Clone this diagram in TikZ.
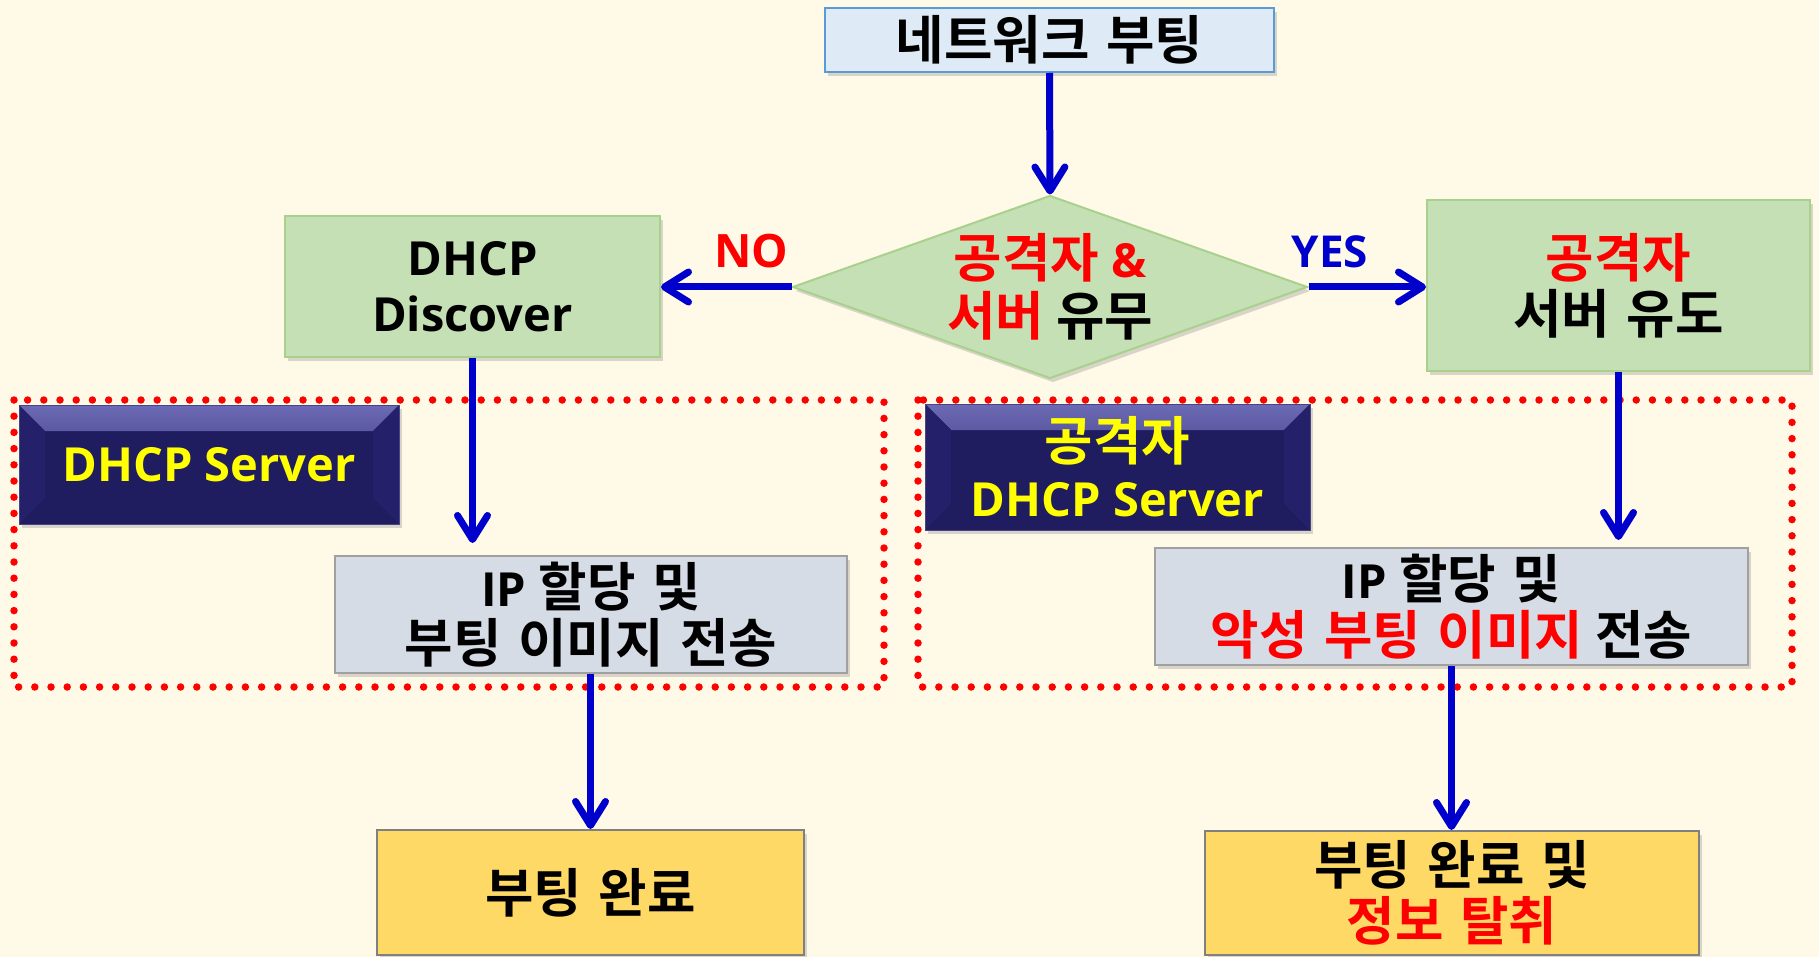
\documentclass[tikz,border=0pt]{standalone}
\usepackage{fontspec}
\setmainfont{Open Sans}[UprightFont=* Bold,BoldFont=* Bold]
\newfontfamily\kr{Noto Sans CJK KR}[UprightFont=* Bold,BoldFont=* Bold,Scale=1.12,WordSpace=1.4]
\usetikzlibrary{shapes.geometric,arrows.meta,shadows}

\definecolor{bgcream}{RGB}{255,249,231}
\definecolor{flowblue}{RGB}{0,0,204}
\definecolor{hotred}{RGB}{255,0,0}
\definecolor{startfill}{RGB}{222,235,247}
\definecolor{startdraw}{RGB}{91,155,213}
\definecolor{greenfill}{RGB}{197,224,180}
\definecolor{greendraw}{RGB}{169,209,142}
\definecolor{grayfill}{RGB}{214,220,229}
\definecolor{graydraw}{RGB}{160,160,160}
\definecolor{goldfill}{RGB}{255,217,102}
\definecolor{golddraw}{RGB}{128,128,128}
\definecolor{navyfill}{RGB}{31,28,96}
\definecolor{navylight}{RGB}{108,106,180}
\definecolor{navyside}{RGB}{36,33,106}
\definecolor{navyedge}{RGB}{70,68,130}
\definecolor{textyellow}{RGB}{255,255,0}

\newcommand{\ko}[1]{{\kr #1}}

\tikzset{
  softshadow/.style={drop shadow={opacity=0.3,shadow xshift=3pt,shadow yshift=-4pt}},
  box/.style={rectangle,inner sep=0pt,line width=2pt,align=center,
    font=\fontsize{47}{56}\selectfont,softshadow},
  startbox/.style={box,fill=startfill,draw=startdraw},
  greenbox/.style={box,fill=greenfill,draw=greendraw},
  graybox/.style={box,fill=grayfill,draw=graydraw},
  goldbox/.style={box,fill=goldfill,draw=golddraw},
  navybox/.style={box,fill=navyfill,draw=navyedge,line width=1pt,text=textyellow,
    path picture={
      \shade[top color=navylight,bottom color=navyfill]
        (path picture bounding box.north west) -- (path picture bounding box.north east)
        -- ([xshift=-26pt,yshift=-26pt]path picture bounding box.north east)
        -- ([xshift=26pt,yshift=-26pt]path picture bounding box.north west) -- cycle;
      \fill[navyside]
        (path picture bounding box.north west)
        -- ([xshift=26pt,yshift=-26pt]path picture bounding box.north west)
        -- ([xshift=26pt,yshift=26pt]path picture bounding box.south west)
        -- (path picture bounding box.south west) -- cycle;
      \fill[navyside]
        (path picture bounding box.north east)
        -- ([xshift=-26pt,yshift=-26pt]path picture bounding box.north east)
        -- ([xshift=-26pt,yshift=26pt]path picture bounding box.south east)
        -- (path picture bounding box.south east) -- cycle;
    }},
  decision/.style={diamond,inner sep=0pt,fill=greenfill,draw=greendraw,line width=2pt,softshadow},
  dotframe/.style={draw=hotred,line width=7.5pt,line cap=round,dash pattern=on 0pt off 16.2pt},
  flow/.style={draw=flowblue,line width=7pt,-{Straight Barb[length=24pt,width=30pt,round]}},
  answer/.style={inner sep=0pt,font=\fontsize{46}{56}\selectfont},
}

\begin{document}
\begin{tikzpicture}[x=1pt,y=-1pt]
  \useasboundingbox (0,0) rectangle (1819,957);
  \fill[bgcream] (0,0) rectangle (1819,957);

  % dotted frames around the two server stages
  \draw[dotframe] (14,400) rectangle (884,687);
  \draw[dotframe] (918,400) rectangle (1792,687);

  % flow nodes
  \node[startbox,minimum width=449pt,minimum height=64pt] (boot) at (1049.5,40) {\ko{네트워크 부팅}};
  \node[decision,minimum width=515pt,minimum height=183pt] (check) at (1050,287) {};
  \node[align=center,font=\fontsize{47}{58}\selectfont] (checktxt) at (check)
    {{\color{hotred}\ko{공격자} \&}\\{\color{hotred}\ko{서버}} \ko{유무}};
  \node[greenbox,minimum width=375pt,minimum height=141pt] (disc) at (472.5,286.5) {DHCP\\Discover};
  \node[greenbox,minimum width=383pt,minimum height=171pt] (lure) at (1618.5,285.5)
    {{\color{hotred}\ko{공격자}}\\\ko{서버 유도}};

  \node[navybox,minimum width=380pt,minimum height=119pt] (srvA) at (209,464.5) {DHCP Server};
  \node[navybox,minimum width=385pt,minimum height=126pt] (srvB) at (1117.5,467)
    {\ko{공격자}\\DHCP Server};

  \node[graybox,minimum width=512pt,minimum height=117pt] (ipA) at (591,614.5)
    {IP \ko{할당 및}\\\ko{부팅 이미지 전송}};
  \node[graybox,minimum width=593pt,minimum height=117pt] (ipB) at (1451.5,606.5)
    {IP \ko{할당 및}\\{\color{hotred}\ko{악성 부팅 이미지}} \ko{전송}};

  \node[goldbox,minimum width=427pt,minimum height=125pt] (doneA) at (590.5,892.5) {\ko{부팅 완료}};
  \node[goldbox,minimum width=494pt,minimum height=124pt] (doneB) at (1452,893)
    {\ko{부팅 완료 및}\\{\color{hotred}\ko{정보 탈취}}};

  % branch labels
  \node[answer,text=hotred] (nolbl) at (751,251) {NO};
  \node[answer,text=flowblue,font=\fontsize{44}{50}\selectfont] (yeslbl) at (1330,252) {YES};

  % connectors
  \draw[flow] (boot.south) -- (check.north);
  \draw[flow] (check.west) -- (disc.east |- check.west);
  \draw[flow] (check.east) -- (lure.west |- check.east);
  \draw[flow,shorten >=12pt] (disc.south) -- (disc.south |- ipA.north);
  \draw[flow,shorten >=7pt] (lure.south) -- (lure.south |- ipB.north);
  \draw[flow] (ipA.south -| doneA.north) -- (doneA.north);
  \draw[flow] (ipB.south) -- (ipB.south |- doneB.north);
\end{tikzpicture}
\end{document}
